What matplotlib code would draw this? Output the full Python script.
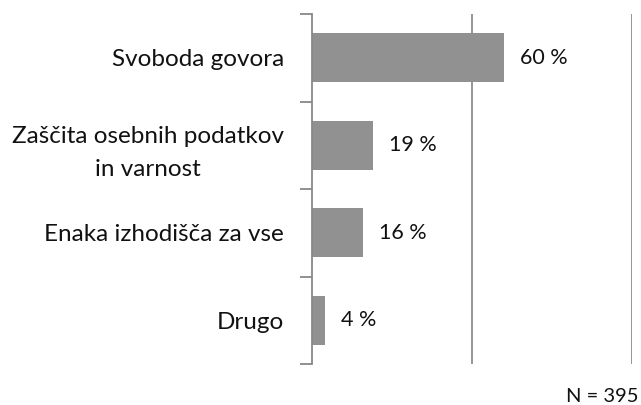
import matplotlib
matplotlib.use("Agg")
import matplotlib.pyplot as plt
from matplotlib.ticker import FixedLocator

categories = ["Svoboda govora", "Zaščita osebnih podatkov\nin varnost", "Enaka izhodišča za vse", "Drugo"]
values = [60, 19, 16, 4]
value_labels = ["60 %", "19 %", "16 %", "4 %"]
note = "N = 395"

plt.rcParams['font.family'] = ['Lato', 'DejaVu Sans']

fig = plt.figure(figsize=(6.41, 4.05), dpi=100)
ax = fig.add_axes([312/641, 1-364/405, 320/641, 350/405])

ypos = list(range(len(categories)))
ax.barh(ypos, values, height=0.56, color="#919191", zorder=3)
ax.set_xlim(0, 100)
ax.set_ylim(len(categories)-0.5, -0.5)

for y, v, lab in zip(ypos, values, value_labels):
    ax.text(v + 5, y, lab, va="center", ha="left", fontsize=15.5, color="#111111")

ax.set_yticks(ypos)
ax.set_yticklabels(categories, fontsize=17.5, color="#111111")
for t in ax.get_yticklabels():
    t.set_multialignment("center")
    t.set_linespacing(1.7)
ax.tick_params(axis="y", which="major", length=0, pad=20)
ax.yaxis.set_minor_locator(FixedLocator([i - 0.5 for i in range(len(categories)+1)]))
ax.tick_params(axis="y", which="minor", length=9, width=1.3, color="#888888", direction="out")

ax.set_xticks([50, 100])
ax.tick_params(axis="x", length=0, labelbottom=False)
ax.grid(axis="x", color="#8c8c8c", linewidth=1.3, zorder=0)

for s in ["top", "right", "bottom"]:
    ax.spines[s].set_visible(False)
ax.spines["left"].set_color("#888888")
ax.spines["left"].set_linewidth(1.3)
ax.spines["left"].set_zorder(4)

fig.text(639/641, 1-396/405, note, ha="right", va="center", fontsize=14.5, color="#111111")

fig.savefig("out.png", dpi=100)
